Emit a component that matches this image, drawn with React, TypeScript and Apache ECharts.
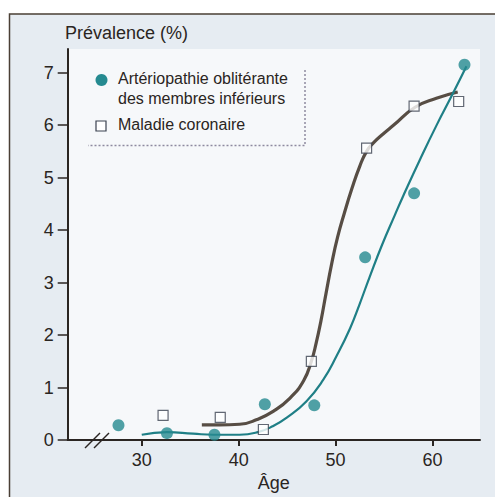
import React, { useEffect, useRef } from "react";
import * as echarts from "echarts";

// ---- Data ----
const xTicks = [30, 40, 50, 60];
const yTicks = [0, 1, 2, 3, 4, 5, 6, 7];

// Artériopathie oblitérante des membres inférieurs — observed points [age, %]
const aomiPoints: [number, number][] = [
  [27.6, 0.28], [32.6, 0.13], [37.5, 0.1], [42.7, 0.68],
  [47.8, 0.66], [53.05, 3.48], [58.1, 4.7], [63.3, 7.15],
];
// Maladie coronaire — observed points [age, %]
const coroPoints: [number, number][] = [
  [32.2, 0.47], [38.1, 0.43], [42.55, 0.2], [47.5, 1.5],
  [53.2, 5.56], [58.1, 6.36], [62.7, 6.45],
];
// fitted curve, AOMI (teal)
const aomiCurve: [number, number][] = [
  [30.0, 0.1], [32.6, 0.15], [35.3, 0.12], [37.4, 0.1], [40.1, 0.1],
  [42.0, 0.15], [43.5, 0.26], [45.0, 0.43], [47.0, 0.74], [48.7, 1.14],
  [50.1, 1.6], [51.5, 2.13], [52.5, 2.6], [53.5, 3.1], [54.8, 3.72],
  [56.1, 4.28], [57.0, 4.66], [58.7, 5.34], [60.4, 5.99], [62.1, 6.6],
  [63.5, 7.12],
];
// fitted curve, coronary disease (dark)
const coroCurve: [number, number][] = [
  [36.2, 0.29], [38.0, 0.29], [40.1, 0.3], [41.9, 0.39], [43.6, 0.55],
  [45.3, 0.8], [46.7, 1.13], [47.5, 1.5], [48.0, 1.85], [48.5, 2.28],
  [49.0, 2.78], [49.6, 3.36], [50.2, 3.86], [50.9, 4.32], [51.7, 4.8],
  [52.5, 5.22], [53.2, 5.5], [53.9, 5.66], [54.9, 5.83], [56.0, 6.0],
  [58.2, 6.34], [60.4, 6.51], [62.6, 6.63],
];

const TEAL = "#1f7f86";
const DARK = "#574d44";
const INK = "#2a2522";
const FONT = "'Liberation Sans', Arial, sans-serif";

export default function App() {
  const ref = useRef<HTMLDivElement>(null);

  useEffect(() => {
    if (!ref.current) return;
    const chart = echarts.init(ref.current, undefined, { renderer: "svg" });
    chart.setOption({
      animation: false,
      backgroundColor: "#ffffff",
      textStyle: { fontFamily: FONT },
      grid: {
        left: 67.7,
        top: 49,
        right: 15,
        bottom: 56.3,
        show: true,
        backgroundColor: "#f6f8fa",
        borderWidth: 0,
      },
      xAxis: {
        type: "value",
        min: 22.36,
        max: 64.9,
        splitLine: { show: false },
        axisLine: { lineStyle: { color: INK, width: 2 } },
        axisTick: {
          customValues: xTicks,
          length: 6,
          lineStyle: { color: INK, width: 2 },
        },
        axisLabel: {
          customValues: xTicks,
          color: INK,
          fontSize: 18,
          fontFamily: FONT,
          margin: 11,
        },
        name: "Âge",
        nameLocation: "middle",
        nameGap: 34,
        nameTextStyle: { color: INK, fontSize: 18, fontFamily: FONT },
      },
      yAxis: {
        type: "value",
        min: 0,
        max: 7.45,
        splitLine: { show: false },
        axisLine: { show: true, lineStyle: { color: INK, width: 2 } },
        axisTick: {
          show: true,
          customValues: yTicks,
          length: 10,
          lineStyle: { color: INK, width: 1.5 },
        },
        axisLabel: {
          customValues: yTicks,
          color: INK,
          fontSize: 18,
          fontFamily: FONT,
          margin: 14,
        },
      },
      series: [
        {
          type: "line",
          data: coroCurve,
          smooth: 0.5,
          showSymbol: false,
          lineStyle: { color: DARK, width: 3.2 },
          z: 2,
        },
        {
          type: "line",
          data: aomiCurve,
          smooth: 0.5,
          showSymbol: false,
          lineStyle: { color: TEAL, width: 2.2 },
          z: 2,
        },
        {
          type: "scatter",
          data: coroPoints,
          symbol: "rect",
          symbolSize: 10,
          itemStyle: { color: "#ffffff", borderColor: "#3b4250", borderWidth: 1.2 },
          z: 3,
        },
        {
          type: "scatter",
          data: aomiPoints,
          symbol: "circle",
          symbolSize: 12,
          itemStyle: { color: "#258a90" },
          z: 4,
        },
      ],
      graphic: [
        {
          type: "rect",
          z: -10,
          silent: true,
          shape: { x: 9.5, y: 14, width: 500, height: 500 },
          style: { fill: "#e6ecf2", stroke: "#4a3f35", lineWidth: 1.5 },
        },
        {
          type: "text",
          left: 65,
          top: 24,
          style: { text: "Prévalence (%)", fill: INK, font: `18px ${FONT}` },
        },
        // axis break
        { type: "line", shape: { x1: 85, y1: 448, x2: 100, y2: 433 }, style: { stroke: INK, lineWidth: 1.5 }, z: 10 },
        { type: "line", shape: { x1: 94, y1: 448, x2: 109, y2: 433 }, style: { stroke: INK, lineWidth: 1.5 }, z: 10 },
        // legend
        {
          type: "polyline",
          shape: { points: [[305, 70], [305, 145.5], [88, 145.5]] },
          style: { stroke: "#8e8aa0", lineWidth: 1.5, lineDash: [2, 2], fill: null },
          z: 10,
        },
        { type: "circle", shape: { cx: 101.5, cy: 80, r: 6 }, style: { fill: "#258a90" }, z: 10 },
        {
          type: "text",
          left: 118,
          top: 70,
          style: { text: "Artériopathie oblitérante", fill: INK, font: `16px ${FONT}` },
          z: 10,
        },
        {
          type: "text",
          left: 118,
          top: 90,
          style: { text: "des membres inférieurs", fill: INK, font: `16px ${FONT}` },
          z: 10,
        },
        {
          type: "rect",
          shape: { x: 96, y: 121, width: 10, height: 10 },
          style: { fill: "#ffffff", stroke: "#3b4250", lineWidth: 1.2 },
          z: 10,
        },
        {
          type: "text",
          left: 118,
          top: 116,
          style: { text: "Maladie coronaire", fill: INK, font: `16px ${FONT}` },
          z: 10,
        },
      ],
    });
    return () => chart.dispose();
  }, []);

  return (
    <div
      ref={ref}
      style={{ position: "fixed", left: 0, top: 0, width: 495, height: 497 }}
    />
  );
}
